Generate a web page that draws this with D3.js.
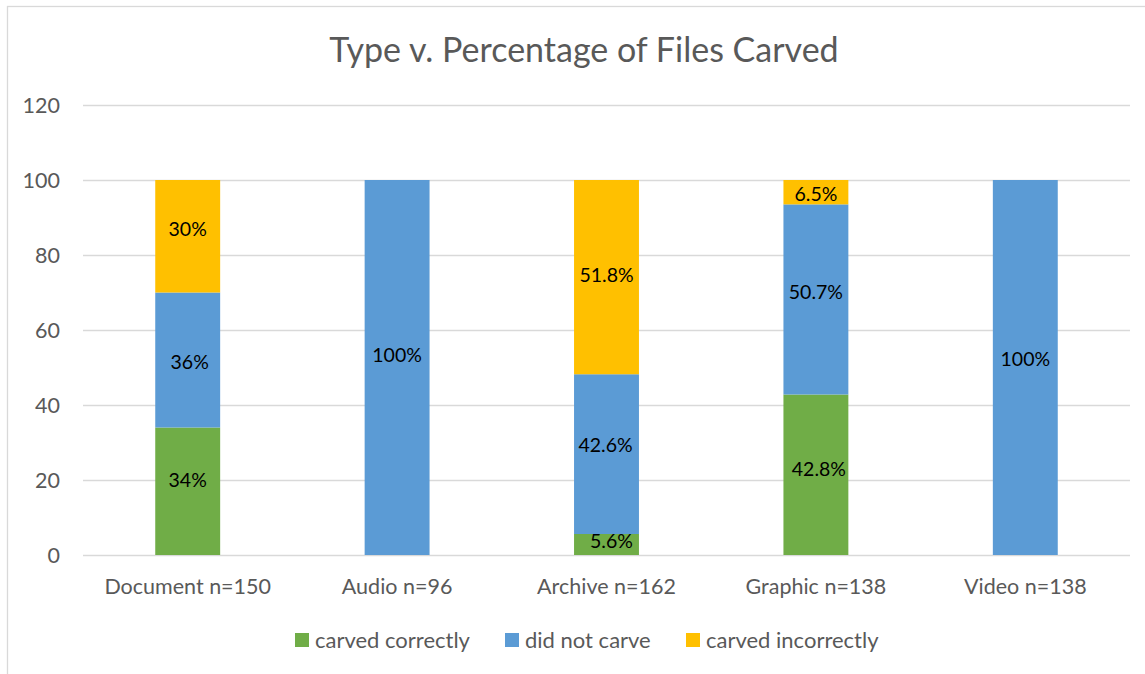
<!DOCTYPE html>
<html>
<head>
<meta charset="utf-8">
<script src="https://cdn.jsdelivr.net/npm/d3@7"></script>
<style>
  html, body { margin: 0; padding: 0; background: #fff; }
  svg { display: block; font-family: Lato, "Open Sans", sans-serif; }
</style>
</head>
<body>
<svg id="chart" width="1145" height="674"></svg>
<script>
// ---- data ----
const categories = ["Document n=150", "Audio n=96", "Archive n=162", "Graphic n=138", "Video n=138"];
const seriesNames = ["carved correctly", "did not carve", "carved incorrectly"];
const carvedCorrectly   = [34, 0, 5.6, 42.8, 0];
const didNotCarve       = [36, 100, 42.6, 50.7, 100];
const carvedIncorrectly = [30, 0, 51.8, 6.5, 0];
const seriesColors = ["#70AD47", "#5B9BD5", "#FFC000"];
const yTicks = [0, 20, 40, 60, 80, 100, 120];
const titleText = "Type v. Percentage of Files Carved";

// ---- layout ----
const svg = d3.select("#chart");
const W = 1145, H = 674;
const plot = { left: 83, right: 1130, top: 105, bottom: 555 };
// small pixel nudges of data labels, as placed in the original (per series, per category)
const labelNudgeY = [[-11, 0, -3, -5.5, 0], [2, -12.5, -9, -7.5, -8.5], [-7, 0, -2, 2, 0]];
const labelNudgeX = [[0, 0, 5, 3, 0], [2, 0, -1, 0, 0], [0, 0, 0, 0, 0]];

const rows = categories.map((c, i) => ({
  cat: c, idx: i,
  [seriesNames[0]]: carvedCorrectly[i],
  [seriesNames[1]]: didNotCarve[i],
  [seriesNames[2]]: carvedIncorrectly[i]
}));

const x = d3.scaleBand().domain(categories)
  .range([plot.left, plot.right])
  .paddingInner(0.69).paddingOuter(0.345);
const y = d3.scaleLinear().domain([0, 120]).range([plot.bottom, plot.top]);
const color = d3.scaleOrdinal().domain(seriesNames).range(seriesColors);

// chart border
svg.append("rect")
  .attr("x", 7.5).attr("y", 6.5)
  .attr("width", W + 20).attr("height", H + 20)
  .attr("fill", "none").attr("stroke", "#D9D9D9").attr("stroke-width", 1.3);

// title
svg.append("text")
  .attr("x", 584).attr("y", 62)
  .attr("text-anchor", "middle")
  .attr("font-size", 34).attr("fill", "#595959")
  .text(titleText);

// gridlines + y axis
const yAxis = d3.axisLeft(y).tickValues(yTicks).tickSize(0).tickPadding(0);
const gy = svg.append("g").attr("transform", `translate(${plot.left},0)`).call(yAxis);
gy.select(".domain").remove();
gy.selectAll("text")
  .attr("x", -23).attr("font-size", 21.5).attr("fill", "#595959")
  .attr("font-family", "Lato, sans-serif").attr("dy", "0.35em");
svg.append("g").selectAll("line").data(yTicks).join("line")
  .attr("x1", plot.left).attr("x2", plot.right)
  .attr("y1", d => Math.round(y(d)) + 0.5).attr("y2", d => Math.round(y(d)) + 0.5)
  .attr("stroke", "#D9D9D9").attr("stroke-width", 1.5);

// stacked bars
const stack = d3.stack().keys(seriesNames)(rows);
const layers = svg.append("g").selectAll("g").data(stack).join("g")
  .attr("fill", d => color(d.key));
layers.selectAll("rect").data(d => d.filter(s => s[1] - s[0] > 0)).join("rect")
  .attr("x", d => x(d.data.cat))
  .attr("width", x.bandwidth())
  .attr("y", d => y(d[1]))
  .attr("height", d => y(d[0]) - y(d[1]));

// data labels
svg.append("g").selectAll("g").data(stack).join("g")
  .selectAll("text").data(d => d.filter(s => s[1] - s[0] > 0).map(s => ({ s, k: d.index }))).join("text")
  .attr("x", d => x(d.s.data.cat) + x.bandwidth() / 2 + labelNudgeX[d.k][d.s.data.idx])
  .attr("y", d => (y(d.s[0]) + y(d.s[1])) / 2 + labelNudgeY[d.k][d.s.data.idx])
  .attr("dy", "0.35em")
  .attr("text-anchor", "middle")
  .attr("font-size", 19.5).attr("fill", "#000")
  .text(d => d3.format("~g")(+(d.s[1] - d.s[0]).toFixed(1)) + "%");

// x axis labels
const xAxis = d3.axisBottom(x).tickSize(0).tickPadding(0);
const gx = svg.append("g").attr("transform", `translate(0,${plot.bottom})`).call(xAxis);
gx.select(".domain").remove();
gx.selectAll("text")
  .attr("y", 31).attr("dy", "0.35em")
  .attr("font-size", 21.5).attr("fill", "#595959")
  .attr("font-family", "Lato, sans-serif");

// legend
const legendItems = [
  { name: seriesNames[0], x: 295 },
  { name: seriesNames[1], x: 505 },
  { name: seriesNames[2], x: 686 }
];
const lg = svg.append("g").selectAll("g").data(legendItems).join("g")
  .attr("transform", d => `translate(${d.x},640)`);
lg.append("rect").attr("x", 0).attr("y", -7).attr("width", 14).attr("height", 14)
  .attr("fill", d => color(d.name));
lg.append("text").attr("x", 20).attr("y", 0).attr("dy", "0.35em")
  .attr("font-size", 22).attr("fill", "#595959")
  .text(d => d.name);
</script>
</body>
</html>
